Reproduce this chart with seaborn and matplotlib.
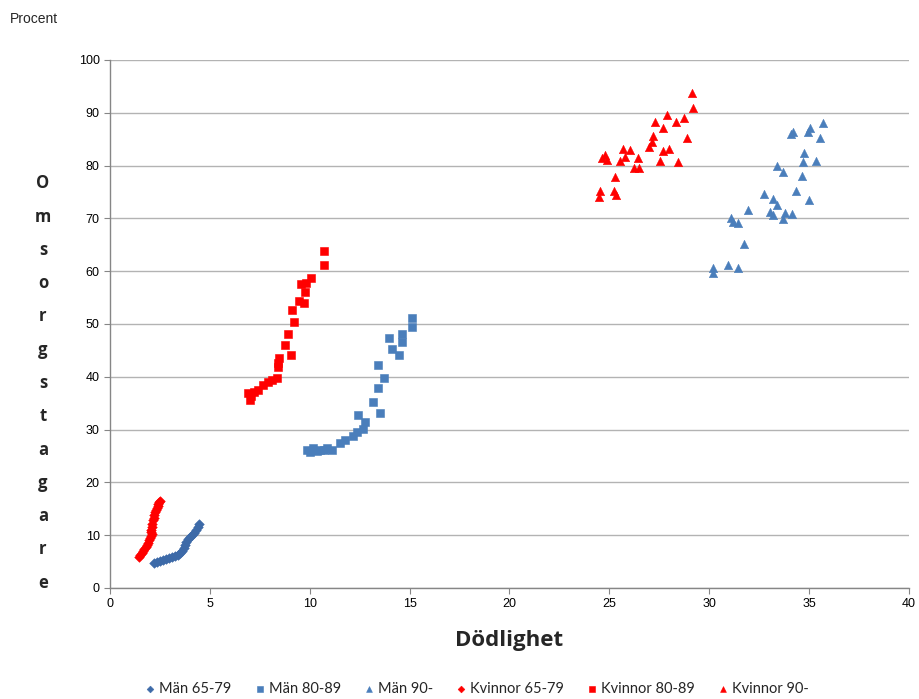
import matplotlib
matplotlib.use("Agg")
import matplotlib.pyplot as plt
import seaborn as sns
import pandas as pd

# Män 65-79
man_6579_x = [2.20, 2.35, 2.50, 2.65, 2.80, 2.95, 3.10, 3.25, 3.40, 3.50, 3.60, 3.68,
              3.75, 3.80, 3.90, 4.00, 4.10, 4.20, 4.30, 4.40, 4.48]
man_6579_y = [4.8, 5.0, 5.2, 5.3, 5.5, 5.6, 5.8, 6.0, 6.3, 6.6, 7.0, 7.6,
              8.2, 8.7, 9.2, 9.7, 10.1, 10.5, 11.0, 11.6, 12.1]

# Män 80-89
man_8089_x = [9.85, 10.00, 10.18, 10.35, 10.51, 10.70, 10.85, 11.10, 11.51, 11.76, 12.18, 12.35,
              12.68, 12.77, 12.43, 13.52, 13.18, 13.40, 13.72, 13.43, 14.10, 14.47, 13.98, 14.60,
              14.60, 15.10, 15.14]
man_8089_y = [26.1, 25.8, 26.5, 25.9, 26.1, 26.2, 26.5, 26.1, 27.4, 28.0, 28.7, 29.6,
              30.2, 31.5, 32.8, 33.1, 35.3, 37.8, 39.7, 42.2, 45.2, 44.1, 47.3, 46.6,
              48.2, 49.5, 51.1]

# Män 90-
man_90_x = [35.68, 34.21, 34.96, 35.04, 35.54, 34.74, 34.71, 35.35, 33.41, 33.68, 34.66, 34.33,
            32.74, 33.21, 35.00, 33.41, 31.92, 33.04, 33.17, 33.79, 34.13, 33.71, 31.07, 31.20,
            31.45, 31.74, 30.20, 30.17, 30.95, 31.45, 34.10]
man_90_y = [88.1, 86.3, 86.4, 87.1, 85.2, 82.3, 80.7, 80.9, 80.0, 78.7, 78.0, 75.1,
            74.6, 73.6, 73.4, 72.6, 71.5, 71.3, 70.6, 71.0, 70.8, 69.8, 70.0, 69.4,
            69.1, 65.2, 60.7, 59.6, 61.2, 60.7, 86.0]

# Kvinnor 65-79
kv_6579_x = [1.45, 1.52, 1.58, 1.65, 1.72, 1.78, 1.85, 1.90, 1.95, 2.00, 2.05, 2.08, 2.06,
             2.04, 2.08, 2.12, 2.15, 2.18, 2.22, 2.26, 2.30, 2.34, 2.38, 2.42, 2.46, 2.50]
kv_6579_y = [5.8, 6.2, 6.6, 7.0, 7.4, 7.8, 8.2, 8.6, 9.0, 9.4, 9.8, 10.2, 10.6,
             11.0, 11.6, 12.2, 12.8, 13.3, 13.8, 14.3, 14.8, 15.2, 15.6, 16.0, 16.3, 16.5]

# Kvinnor 80-89
kv_8089_x = [7.01, 6.92, 7.05, 7.20, 7.43, 7.68, 7.90, 8.10, 8.34, 8.43, 8.43, 8.46, 9.04,
             8.76, 8.93, 9.23, 9.10, 9.46, 9.71, 9.55, 9.76, 9.81, 10.06, 10.70, 10.73]
kv_8089_y = [35.6, 36.9, 36.4, 37.2, 37.5, 38.4, 39.0, 39.4, 39.7, 41.9, 42.6, 43.5, 44.1,
             46.0, 48.2, 50.4, 52.6, 54.4, 53.9, 57.6, 56.1, 57.7, 58.8, 61.2, 63.9]

# Kvinnor 90-
kv_90_x = [29.15, 29.20, 27.87, 27.28, 28.32, 28.75, 27.67, 27.20, 28.87, 27.12, 27.00, 27.70,
           28.00, 25.67, 26.03, 26.45, 25.78, 25.53, 24.78, 24.90, 27.53, 28.45, 26.23, 26.50,
           25.28, 24.53, 24.48, 25.25, 25.32, 24.65]
kv_90_y = [93.8, 90.9, 89.6, 88.3, 88.3, 89.0, 87.2, 85.6, 85.2, 84.5, 83.6, 82.8,
           83.1, 83.1, 83.0, 81.4, 81.7, 80.9, 82.0, 81.1, 80.9, 80.6, 79.5, 79.5,
           77.9, 75.1, 74.1, 75.1, 74.4, 81.5]

series_names = ["Män 65-79", "Män 80-89", "Män 90-", "Kvinnor 65-79", "Kvinnor 80-89", "Kvinnor 90-"]
xs = [man_6579_x, man_8089_x, man_90_x, kv_6579_x, kv_8089_x, kv_90_x]
ys = [man_6579_y, man_8089_y, man_90_y, kv_6579_y, kv_8089_y, kv_90_y]

frames = []
for name, x, y in zip(series_names, xs, ys):
    frames.append(pd.DataFrame({"Dödlighet": x, "Omsorgstagare": y, "Grupp": name}))
df = pd.concat(frames, ignore_index=True)

blue = "#4a7ebb"
red = "#ff0000"
palette = {"Män 65-79": "#3d6aa8", "Män 80-89": blue, "Män 90-": blue,
           "Kvinnor 65-79": red, "Kvinnor 80-89": red, "Kvinnor 90-": red}
markers = {"Män 65-79": "D", "Män 80-89": "s", "Män 90-": "^",
           "Kvinnor 65-79": "D", "Kvinnor 80-89": "s", "Kvinnor 90-": "^"}
sizes = {"D": 24, "s": 28, "^": 36}

sns.set_theme(style="white")
plt.rcParams["font.family"] = ["Liberation Sans", "DejaVu Sans"]

fig = plt.figure(figsize=(9.2, 6.99), dpi=100)
ax = fig.add_axes([110 / 920, 1 - 588 / 699, (909 - 110) / 920, (588 - 60) / 699])

for name in series_names:
    sub = df[df["Grupp"] == name]
    m = markers[name]
    sns.scatterplot(data=sub, x="Dödlighet", y="Omsorgstagare", ax=ax,
                    marker=m, color=palette[name], s=sizes[m],
                    edgecolor=palette[name], linewidth=0.4, label=name, zorder=3)

ax.set_xlim(0, 40)
ax.set_ylim(0, 100)
ax.set_xticks(range(0, 41, 5))
ax.set_yticks(range(0, 101, 10))
ax.tick_params(axis="both", labelsize=9, colors="#868686", length=4, direction="out",
               bottom=True, left=True, width=0.8)
ax.tick_params(axis="both", labelcolor="black")
ax.grid(axis="y", color="#b3b3b3", linewidth=1.0)
ax.grid(axis="x", visible=False)
ax.set_axisbelow(True)
for side in ("top", "right"):
    ax.spines[side].set_visible(False)
for side in ("left", "bottom"):
    ax.spines[side].set_color("#868686")
    ax.spines[side].set_linewidth(1.0)

ax.set_xlabel("Dödlighet", fontsize=16, fontweight="bold", labelpad=14,
              family=["Open Sans", "DejaVu Sans"])
ax.set_ylabel("")

# vertically stacked y-axis title
fig.text(43 / 920, 1 - 383 / 699, "\n".join("Omsorgstagare"),
         fontsize=12, fontweight="bold", ha="center", va="center", linespacing=2.09,
         family=["Open Sans", "DejaVu Sans"])

fig.text(10 / 920, 1 - 19 / 699, "Procent", fontsize=10, ha="left", va="center")

leg = ax.legend(loc="center", bbox_to_anchor=(476 / 920, 1 - 689 / 699),
                bbox_transform=fig.transFigure, ncol=6, frameon=False,
                prop={"family": ["Lato", "DejaVu Sans"], "size": 10.5},
                markerscale=0.7, handletextpad=0.1, columnspacing=1.45, borderaxespad=0,
                handlelength=1.0)

fig.savefig("out.png", dpi=100)
